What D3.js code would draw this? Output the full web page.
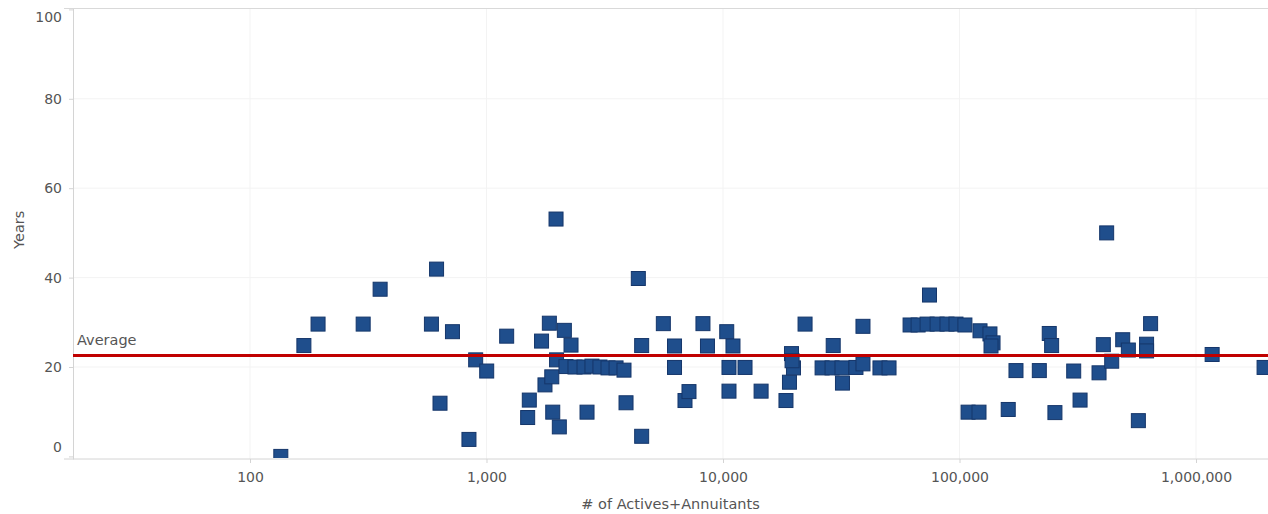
<!DOCTYPE html>
<html>
<head>
<meta charset="utf-8">
<script src="https://cdn.jsdelivr.net/npm/d3@7/dist/d3.min.js"></script>
<style>
  html, body { margin: 0; padding: 0; background: #fff; }
  svg { display: block; }
  text { font-family: "DejaVu Sans", "Liberation Sans", Arial, sans-serif; }
</style>
</head>
<body>
<svg id="chart" width="1268" height="514"></svg>
<script>
// Plan size (# of actives + annuitants) for each plan
const actives = [
  135, 169, 194, 301, 355, 585, 615, 636, 718, 843,
  900, 1002, 1217, 1493, 1517, 1709, 1767, 1844, 1888, 1906,
  1968, 1978, 2032, 2134, 2277, 2168, 2367, 2584, 2792, 3018,
  3264, 3530, 3814, 2661, 3890, 4385, 4530, 4530, 5594, 6237,
  6237, 6907, 7181, 8227, 8597, 10370, 10600, 10600, 11020, 12390,
  14490, 18460, 19100, 19480, 19860, 19590, 22230, 26240, 29240, 28910,
  31850, 32000, 36490, 39070, 39070, 46100, 50350, 74660, 61800, 66830,
  72950, 80410, 88530, 96630, 105400, 122100, 134500, 138600, 135900, 108700,
  120900, 160700, 173300, 217500, 239600, 245200, 253200, 304000, 323400, 389000,
  405600, 419000, 440100, 489900, 517500, 570500, 618000, 618000, 642700, 1170000,
  1940000
];

// Years for each plan, same order as above
const years = [
  0, 24.8, 29.6, 29.6, 37.4, 29.6, 41.9, 11.9, 27.9, 3.8,
  21.6, 19.1, 26.9, 8.7, 12.6, 25.8, 16.0, 29.8, 17.8, 9.9,
  53.1, 21.6, 6.6, 28.2, 24.9, 20.1, 20.0, 20.0, 20.2, 20.0,
  19.8, 19.8, 19.3, 9.9, 12.0, 39.8, 24.8, 4.5, 29.7, 24.7,
  19.9, 12.5, 14.5, 29.7, 24.7, 27.9, 14.6, 19.9, 24.7, 19.9,
  14.6, 12.5, 16.6, 23.0, 19.8, 21.4, 29.6, 19.8, 24.8, 19.8,
  19.8, 16.4, 19.9, 20.7, 29.1, 19.8, 19.8, 36.1, 29.4, 29.4,
  29.6, 29.6, 29.6, 29.6, 29.4, 28.1, 27.4, 25.4, 24.7, 9.9,
  9.9, 10.5, 19.2, 19.2, 27.5, 24.8, 9.8, 19.1, 12.6, 18.7,
  25.0, 50.0, 21.3, 26.1, 23.8, 8.0, 25.1, 23.6, 29.7, 22.8,
  19.9
];

const averageYears = 22.6;

const xTicks = [100, 1000, 10000, 100000, 1000000];
const yTicks = [0, 20, 40, 60, 80, 100];

const points = actives.map((a, i) => ({ a, y: years[i] }));

const svg = d3.select("#chart");
const paneLeft = 73, paneRight = 1268, paneTop = 8.5, paneBottom = 459;

const x = d3.scaleLog().domain([17.85, 2015500]).range([paneLeft, paneRight]);
const y = d3.scaleLinear().domain([-0.58, 100.2]).range([paneBottom, paneTop]);

const fmt = d3.format(",");

// faint gridlines
const grid = svg.append("g");
grid.selectAll("line.h").data(yTicks.filter(d => d > 0 && d < 100)).join("line")
  .attr("class", "h")
  .attr("x1", paneLeft).attr("x2", paneRight)
  .attr("y1", d => y(d)).attr("y2", d => y(d))
  .attr("stroke", "#f3f3f3").attr("stroke-width", 1);
grid.selectAll("line.v").data(xTicks).join("line")
  .attr("class", "v")
  .attr("x1", d => x(d)).attr("x2", d => x(d))
  .attr("y1", paneTop).attr("y2", paneBottom)
  .attr("stroke", "#f3f3f3").attr("stroke-width", 1);

// frame: top border
svg.append("line")
  .attr("x1", 64).attr("x2", paneRight).attr("y1", paneTop).attr("y2", paneTop)
  .attr("stroke", "#d9d9d9");

// axes
const xAxis = svg.append("g")
  .attr("transform", `translate(0,${paneBottom})`)
  .call(d3.axisBottom(x).tickValues(xTicks).tickFormat(fmt).tickSize(4).tickSizeOuter(0).tickPadding(9));

const yAxis = svg.append("g")
  .attr("transform", `translate(${paneLeft},0)`)
  .call(d3.axisLeft(y).tickValues(yTicks).tickSize(4).tickSizeOuter(0).tickPadding(7));

[xAxis, yAxis].forEach(g => {
  g.select(".domain").attr("stroke", "#d4d4d4");
  g.selectAll(".tick line").attr("stroke", "#d4d4d4");
  g.selectAll(".tick text")
    .attr("fill", "#555")
    .style("font-size", "14px")
    .style("font-family", "'DejaVu Sans', 'Liberation Sans', Arial, sans-serif");
});
xAxis.select(".domain").attr("d", `M64,0H${paneRight}`);

// end labels on the value axis sit inside the pane
yAxis.selectAll(".tick text")
  .attr("y", d => d === 0 ? -9.5 : d === 100 ? 8 : 0);

// plot area clip
svg.append("clipPath").attr("id", "pane")
  .append("rect")
  .attr("x", paneLeft + 0.5).attr("y", paneTop)
  .attr("width", paneRight - paneLeft).attr("height", paneBottom - paneTop - 1);

const size = 14;
svg.append("g").attr("clip-path", "url(#pane)")
  .selectAll("rect")
  .data(points)
  .join("rect")
  .attr("x", d => x(d.a) - size / 2)
  .attr("y", d => y(d.y) - size / 2)
  .attr("width", size).attr("height", size)
  .attr("fill", "#1f4e8c")
  .attr("stroke", "#15366a")
  .attr("stroke-width", 1);

// average reference line
svg.append("line")
  .attr("x1", paneLeft).attr("x2", paneRight)
  .attr("y1", y(averageYears)).attr("y2", y(averageYears))
  .attr("stroke", "#c00000").attr("stroke-width", 3);

svg.append("text")
  .attr("x", paneLeft + 4).attr("y", y(averageYears) - 10)
  .attr("fill", "#555").style("font-size", "14.5px")
  .text("Average");

// axis titles
svg.append("text")
  .attr("x", (paneLeft + paneRight) / 2).attr("y", 509)
  .attr("text-anchor", "middle")
  .attr("fill", "#555").style("font-size", "14.5px")
  .text("# of Actives+Annuitants");

svg.append("text")
  .attr("transform", `translate(24,${(paneTop + paneBottom) / 2 - 4}) rotate(-90)`)
  .attr("text-anchor", "middle")
  .attr("fill", "#555").style("font-size", "14.5px")
  .text("Years");
</script>
</body>
</html>
